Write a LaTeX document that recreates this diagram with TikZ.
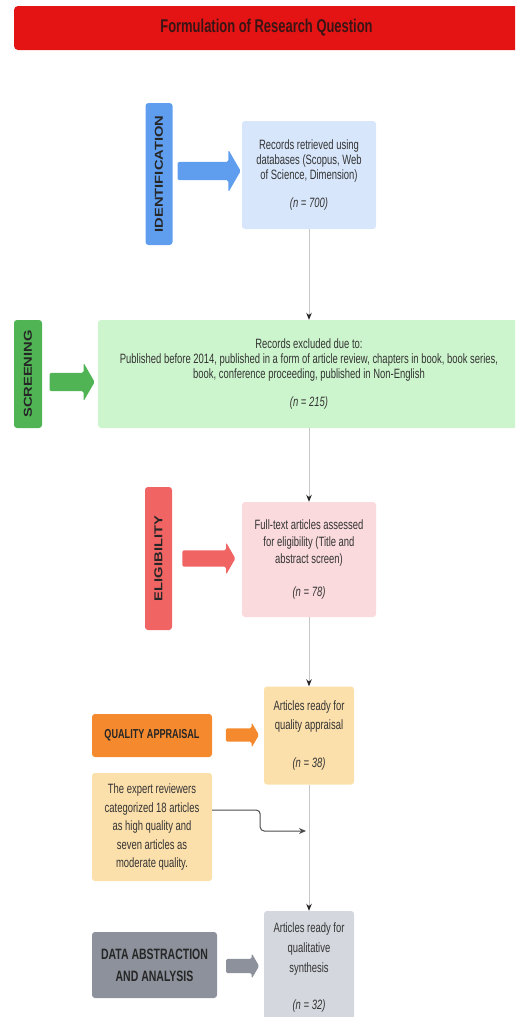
\documentclass[tikz,border=0pt]{standalone}
\usepackage{fontspec}
\setmainfont{Liberation Sans}[FakeStretch=0.7]
\newfontfamily\stagefont{Liberation Sans}[FakeStretch=1.28]
\usetikzlibrary{shapes.arrows,arrows.meta}
\definecolor{titlered}{RGB}{228,20,20}
\definecolor{titletext}{RGB}{58,20,20}
\definecolor{idblue}{RGB}{95,158,238}
\definecolor{idlight}{RGB}{215,230,250}
\definecolor{scrgreen}{RGB}{80,180,85}
\definecolor{scrlight}{RGB}{205,245,205}
\definecolor{elired}{RGB}{240,100,100}
\definecolor{elilight}{RGB}{250,218,220}
\definecolor{qaorange}{RGB}{245,137,45}
\definecolor{qalight}{RGB}{252,224,172}
\definecolor{dagrey}{RGB}{140,145,155}
\definecolor{dalight}{RGB}{212,215,222}
\tikzset{
  stage/.style={rounded corners=3pt,rotate=90,minimum height=27pt,inner sep=0pt,font=\stagefont\bfseries\fontsize{11.5}{12}\selectfont,text=black!85},
  recbox/.style={rounded corners=3pt,align=center,inner sep=0pt,text=black!80,font=\fontsize{13.5}{15}\selectfont},
  sidebox/.style={rounded corners=3pt,align=center,inner sep=0pt,text=black!85,font=\bfseries\fontsize{13}{14}\selectfont},
  fatarrow/.style={single arrow,single arrow tip angle=120,inner xsep=0pt,rounded corners=1.5pt},
  flow/.style={draw=black!22,line width=0.9pt,-{Stealth[length=7pt,width=5.5pt,color=black!85]}},
  joinline/.style={draw=black!70,line width=1pt,rounded corners=4pt,-{Stealth[length=7pt,width=6pt]}},
}
\begin{document}
\begin{tikzpicture}[x=1pt,y=-1pt]
  \useasboundingbox (0,0) rectangle (515,1017);
  \clip (0,0) rectangle (515,1017);
  % title bar
  \node[rounded corners=4pt,fill=titlered,minimum width=505pt,minimum height=44pt,text=titletext,font=\bfseries\fontsize{18.5}{20}\selectfont] (title) at (266.5,28) {Formulation of Research Question};
  % identification
  \node[stage,fill=idblue,minimum width=142pt] (idlab) at (159,174) {IDENTIFICATION};
  \node[fatarrow,fill=idblue,minimum height=63pt,inner ysep=9pt,single arrow head extend=12pt] (idarr) at (206.5,171) {};
  \node[recbox,fill=idlight,minimum width=134pt,minimum height=108pt] (recs) at (309,175) {Records retrieved using\\databases (Scopus, Web\\of Science, Dimension)\\[13pt]\textit{(n = 700)}};
  % screening
  \node[stage,fill=scrgreen,minimum width=108pt,minimum height=28pt] (scrlab) at (28,374) {SCREENING};
  \node[fatarrow,fill=scrgreen,minimum height=45pt,inner ysep=9pt,single arrow head extend=10pt] (scrarr) at (69.5,382) {};
  \node[recbox,fill=scrlight,minimum width=422pt,minimum height=108pt] (excl) at (309,374) {Records excluded due to:\\Published before 2014, published in a form of article review, chapters in book, book series,\\book, conference proceeding, published in Non-English\\[13pt]\textit{(n = 215)}};
  % eligibility
  \node[stage,fill=elired,minimum width=143pt] (elilab) at (158.5,558.5) {ELIGIBILITY};
  \node[fatarrow,fill=elired,minimum height=53pt,inner ysep=8pt,single arrow head extend=8pt] (eliarr) at (206.5,558.5) {};
  \node[recbox,fill=elilight,minimum width=134pt,minimum height=115pt,font=\fontsize{13.5}{17}\selectfont] (fulltext) at (309,559.5) {Full-text articles assessed\\for eligibility (Title and\\abstract screen)\\[16pt]\textit{(n = 78)}};
  % quality appraisal
  \node[sidebox,fill=qaorange,minimum width=120pt,minimum height=43pt] (qalab) at (152,735.5) {QUALITY APPRAISAL};
  \node[fatarrow,fill=qaorange,minimum height=33pt,inner ysep=6.5pt,single arrow head extend=6pt] (qaarr) at (240.5,735) {};
  \node[recbox,fill=qalight,minimum width=90pt,minimum height=98pt,font=\fontsize{13.5}{19}\selectfont] (appraisal) at (309,735.5) {Articles ready for\\quality appraisal\\[19pt]\textit{(n = 38)}};
  \node[recbox,fill=qalight,minimum width=120pt,minimum height=108pt,font=\fontsize{13.5}{18.5}\selectfont] (expert) at (152,827) {The expert reviewers\\categorized 18 articles\\as high quality and\\seven articles as\\moderate quality.};
  % data abstraction
  \node[sidebox,fill=dagrey,minimum width=125pt,minimum height=66pt,font=\bfseries\fontsize{15}{22}\selectfont] (dalab) at (154.5,965) {DATA ABSTRACTION\\AND ANALYSIS};
  \node[fatarrow,fill=dagrey,minimum height=33pt,inner ysep=7pt,single arrow head extend=5.5pt] (daarr) at (240.5,966) {};
  \node[recbox,fill=dalight,minimum width=90pt,minimum height=112pt,font=\fontsize{13.5}{20}\selectfont] (synth) at (309,967) {Articles ready for\\qualitative\\synthesis\\[17pt]\textit{(n = 32)}};
  % connectors
  \draw[flow] (recs.south) -- (excl.north);
  \draw[flow] (excl.south) -- (fulltext.north);
  \draw[flow] (fulltext.south) -- (appraisal.north);
  \draw[flow] (appraisal.south) -- (synth.north);
  \coordinate (join) at (306,831);
  \draw[joinline] ([yshift=17pt]expert.east) -- ++(48,0) |- (join);
\end{tikzpicture}
\end{document}
